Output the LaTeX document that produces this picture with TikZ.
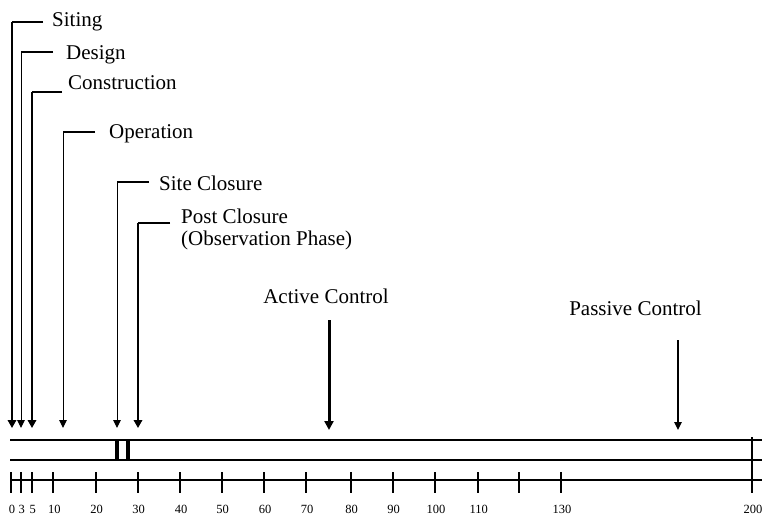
\documentclass[tikz,border=0pt]{standalone}
\usepackage{fontspec}
\setmainfont{Liberation Serif}
\usetikzlibrary{arrows.meta}

\begin{document}
\begin{tikzpicture}[x=1pt,y=-1pt]
  \tikzset{phase/.style={anchor=base west,inner sep=0pt,font=\fontsize{21}{21.5}\selectfont},
    num/.style={inner sep=0pt,font=\fontsize{12.5}{12.5}\selectfont},
    lead/.style={line width=1.8pt},
    bar/.style={line width=2pt},
    tickmark/.style={line width=1.7pt},
    thinarr/.style={-{Triangle[length=8pt,width=7.5pt]},line width=1pt},
    thickarr/.style={-{Triangle[length=8pt,width=8.5pt]},line width=1.8pt}}%
\useasboundingbox (0,0) rectangle (767,516);
% phase labels
\node[phase] (siting) at (52,26.5) {Siting};
\node[phase] (design) at (66,60) {Design};
\node[phase] (constr) at (68,90) {Construction};
\node[phase] (oper) at (109,138) {Operation};
\node[phase] (closure) at (159,190) {Site Closure};
\node[phase,anchor=north west,align=left] (post) at (181,209) {Post Closure\\(Observation Phase)};
\node[phase,anchor=base] (active) at (326,303) {Active Control};
\node[phase,anchor=base] (passive) at (635.5,315) {Passive Control};
% corners of the leaders and arrow tips
\coordinate (h1) at (43,22);   \coordinate (t1) at (12,428);
\coordinate (h2) at (53,52);   \coordinate (t2) at (21,428);
\coordinate (h3) at (62,92);   \coordinate (t3) at (32,428);
\coordinate (h4) at (95,132);  \coordinate (t4) at (63,428);
\coordinate (h5) at (149,182); \coordinate (t5) at (117,428);
\coordinate (h6) at (170,223); \coordinate (t6) at (138,428);
\coordinate (a7) at (329,320); \coordinate (t7) at (329,430);
\coordinate (a8) at (678,340); \coordinate (t8) at (678,430);
\draw[lead] (h1) -- (h1 -| t1);
\draw[lead] (h2) -- (h2 -| t2);
\draw[lead] (h3) -- (h3 -| t3);
\draw[lead] (h4) -- (h4 -| t4);
\draw[lead] (h5) -- (h5 -| t5);
\draw[lead] (h6) -- (h6 -| t6);
\draw[thickarr] (h1 -| t1) -- (t1);
\draw[thinarr] (h2 -| t2) -- (t2);
\draw[thickarr] (h3 -| t3) -- (t3);
\draw[thinarr] (h4 -| t4) -- (t4);
\draw[thinarr] (h5 -| t5) -- (t5);
\draw[thickarr] (h6 -| t6) -- (t6);
\draw[thickarr,line width=3pt,-{Triangle[length=9pt,width=9pt]}] (a7) -- (t7);
\draw[thinarr,line width=1.3pt] (a8) -- (t8);
% time bar
\draw[bar] (10,440) -- (762,440);
\draw[bar] (10,460) -- (762,460);
\draw[line width=3.5pt] (117,440) -- (117,460);
\draw[line width=4.5pt] (128,440) -- (128,460);
% axis in years
\draw[bar] (10,480) -- (762,480);
\foreach \v/\x in {0/11,3/20.7,5/31.7,10/53.3,20/95.7,30/137.7,40/180,50/221.7,60/264,70/306,80/350.7,90/392.7,100/435,110/477.7,130/561,200/752}{
  \draw[tickmark] (\x,472) -- (\x,493);
  \node[num] at (\x+1,509.5) {\v};
}
\draw[tickmark] (519,472) -- (519,493);
\draw[tickmark] (752,437) -- (752,472);
\end{tikzpicture}
\end{document}
